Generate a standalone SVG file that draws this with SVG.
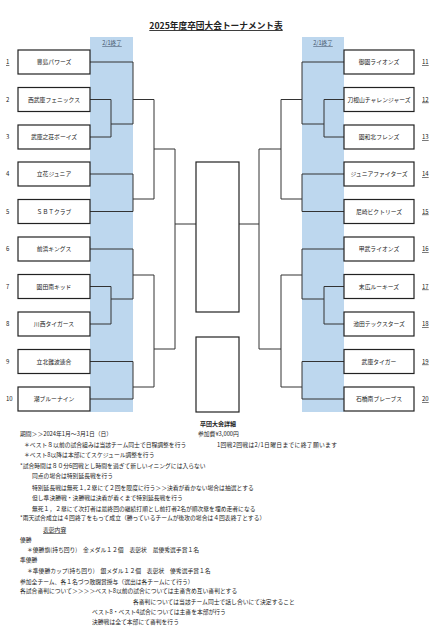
<svg xmlns="http://www.w3.org/2000/svg" width="438" height="640" viewBox="0 0 438 640">
<style>
text{font-family:"Noto Sans CJK JP","Noto Sans",sans-serif;fill:#222}
.t{font-size:5.8px}
.b{font-size:5.8px;text-anchor:middle}
.n{font-size:6px}
.u{text-decoration:underline}
.box{fill:#fff;stroke:#222;stroke-width:1.2}
.band{fill:#bdd7ee}
.ln{fill:none;stroke:#333;stroke-width:1}
.lbl{font-size:5.6px;text-anchor:middle;fill:#44546a;text-decoration:underline}
</style>
<rect width="438" height="640" fill="#fff"/>
<text x="216" y="29" font-size="8.7" font-weight="bold" text-anchor="middle" class="u">2025年度卒団大会トーナメント表</text>
<g id="bands">
<rect class="band" x="90" y="37" width="43" height="375"/>
<rect class="band" x="302" y="37" width="42" height="375"/>
<text class="lbl" x="112" y="45">2/1終了</text>
<text class="lbl" x="323" y="45">2/1終了</text>
</g>
<g id="connectors">
<path class="ln" d="M90,62H133V124M90,99.5H111V137H90M111,124H133M133,99.5H154M90,174H133V211.5H90M133,199H154M154,99.5V199M154,149H175M90,249H133V299M90,286.5H111V324H90M111,299H133M133,275H154M90,361.5H133V399H90M133,387H154M154,275V387M154,349H175M175,149V349M175,224H196"/>
<path class="ln" d="M239,224H259M259,149V349M259,149H281M259,349H281M281,99.5V199M281,275V387M344,62H302V124M344,99.5H324V137H344M324,124H302M302,99.5H281M344,174H302V211.5H344M302,199H281M344,249H302V299M344,286.5H324V324H344M324,299H302M302,275H281M344,361.5H302V399H344M302,387H281"/>
</g>
<g id="final"><rect class="box" x="196" y="162" width="43" height="150"/></g>
<g id="third"><rect class="box" x="196" y="337" width="43" height="75"/></g>
<g id="t1"><rect class="box" x="18" y="50" width="72" height="24"/><text class="b" x="54" y="64">豊島パワーズ</text><text class="n u" x="6" y="64">1</text></g>
<g id="t2"><rect class="box" x="18" y="87.5" width="72" height="24"/><text class="b" x="54" y="101.5">西武庫フェニックス</text><text class="n" x="6" y="101.5">2</text></g>
<g id="t3"><rect class="box" x="18" y="125" width="72" height="24"/><text class="b" x="54" y="139">武庫之荘ボーイズ</text><text class="n" x="6" y="139">3</text></g>
<g id="t4"><rect class="box" x="18" y="162" width="72" height="24"/><text class="b" x="54" y="176">立花ジュニア</text><text class="n" x="6" y="176">4</text></g>
<g id="t5"><rect class="box" x="18" y="199.5" width="72" height="24"/><text class="b" x="54" y="213.5">ＳＢＴクラブ</text><text class="n" x="6" y="213.5">5</text></g>
<g id="t6"><rect class="box" x="18" y="237" width="72" height="24"/><text class="b" x="54" y="251">前浜キングス</text><text class="n" x="6" y="251">6</text></g>
<g id="t7"><rect class="box" x="18" y="274.5" width="72" height="24"/><text class="b" x="54" y="288.5">園田南キッド</text><text class="n" x="6" y="288.5">7</text></g>
<g id="t8"><rect class="box" x="18" y="312" width="72" height="24"/><text class="b" x="54" y="326">川西タイガース</text><text class="n" x="6" y="326">8</text></g>
<g id="t9"><rect class="box" x="18" y="349.5" width="72" height="24"/><text class="b" x="54" y="363.5">立北難波連合</text><text class="n" x="6" y="363.5">9</text></g>
<g id="t10"><rect class="box" x="18" y="387" width="72" height="24"/><text class="b" x="54" y="401">潮ブルーナイン</text><text class="n" x="6" y="401">10</text></g>
<g id="t11"><rect class="box" x="344" y="50" width="70" height="24"/><text class="b" x="379" y="64">御園ライオンズ</text><text class="n u" x="422" y="64">11</text></g>
<g id="t12"><rect class="box" x="344" y="87.5" width="70" height="24"/><text class="b" x="379" y="101.5">刀根山チャレンジャーズ</text><text class="n u" x="422" y="101.5">12</text></g>
<g id="t13"><rect class="box" x="344" y="125" width="70" height="24"/><text class="b" x="379" y="139">園和北フレンズ</text><text class="n u" x="422" y="139">13</text></g>
<g id="t14"><rect class="box" x="344" y="162" width="70" height="24"/><text class="b" x="379" y="176">ジュニアファイターズ</text><text class="n u" x="422" y="176">14</text></g>
<g id="t15"><rect class="box" x="344" y="199.5" width="70" height="24"/><text class="b" x="379" y="213.5">尼崎ビクトリーズ</text><text class="n u" x="422" y="213.5">15</text></g>
<g id="t16"><rect class="box" x="344" y="237" width="70" height="24"/><text class="b" x="379" y="251">甲武ライオンズ</text><text class="n u" x="422" y="251">16</text></g>
<g id="t17"><rect class="box" x="344" y="274.5" width="70" height="24"/><text class="b" x="379" y="288.5">末広ルーキーズ</text><text class="n u" x="422" y="288.5">17</text></g>
<g id="t18"><rect class="box" x="344" y="312" width="70" height="24"/><text class="b" x="379" y="326">池田テックスターズ</text><text class="n u" x="422" y="326">18</text></g>
<g id="t19"><rect class="box" x="344" y="349.5" width="70" height="24"/><text class="b" x="379" y="363.5">武庫タイガー</text><text class="n u" x="422" y="363.5">19</text></g>
<g id="t20"><rect class="box" x="344" y="387" width="70" height="24"/><text class="b" x="379" y="401">石橋南ブレーブス</text><text class="n u" x="422" y="401">20</text></g>
<g id="details">
<text x="218" y="426" font-size="6" font-weight="bold" text-anchor="middle">卒団大会詳細</text>
<text class="t" x="20" y="436">期間＞＞2024年1月～3月1日（日）</text>
<text class="t" x="198" y="436">参加費¥3,000円</text>
<text class="t" x="24" y="447">＊ベスト８以前の試合組みは当該チーム同士で日程調整を行う</text>
<text class="t" x="217" y="447" textLength="120">1回戦2回戦は2/1日曜日までに終了願います</text>
<text class="t" x="24" y="457">＊ベスト8以降は本部にてスケジュール調整を行う</text>
<text class="t" x="20" y="468">*試合時間は８０分6回戦とし時間を過ぎて新しいイニングには入らない</text>
<text class="t" x="32" y="478">同点の場合は特別延長戦を行う</text>
<text class="t" x="32" y="490">特別延長戦は無死１,２塁にて２回を限度に行う＞＞決着が着かない場合は抽選とする</text>
<text class="t" x="32" y="500">但し準決勝戦・決勝戦は決着が着くまで特別延長戦を行う</text>
<text class="t" x="32" y="511">無死１，２塁にて次打者は最終回の継続打順とし前打者2名が順次塁を埋め走者になる</text>
<text class="t" x="20" y="520">*雨天試合成立は４回終了をもって成立（勝っているチームが後攻の場合は４回表終了とする）</text>
<text class="t u" x="43" y="532">表彰内容</text>
<text class="t" x="20" y="542">優勝</text>
<text class="t" x="27" y="552">＊優勝旗(持ち回り)　金メダル１２個　表彰状　最優秀選手賞１名</text>
<text class="t" x="20" y="562">準優勝</text>
<text class="t" x="27" y="573">＊準優勝カップ(持ち回り)　銀メダル１２個　表彰状　優秀選手賞１名</text>
<text class="t" x="20" y="584">参加全チーム、各１名づつ敢闘賞授与（選出は各チームにて行う）</text>
<text class="t" x="20" y="593">各試合審判について＞＞＞＞ベスト8以前の試合については主審含め互い審判とする</text>
<text class="t" x="133" y="604">各審判については当該チーム同士で話し合いにて決定すること</text>
<text class="t" x="92" y="614">ベスト8・ベスト4試合については主審を本部が行う</text>
<text class="t" x="92" y="624">決勝戦は全て本部にて審判を行う</text>
</g>
</svg>
